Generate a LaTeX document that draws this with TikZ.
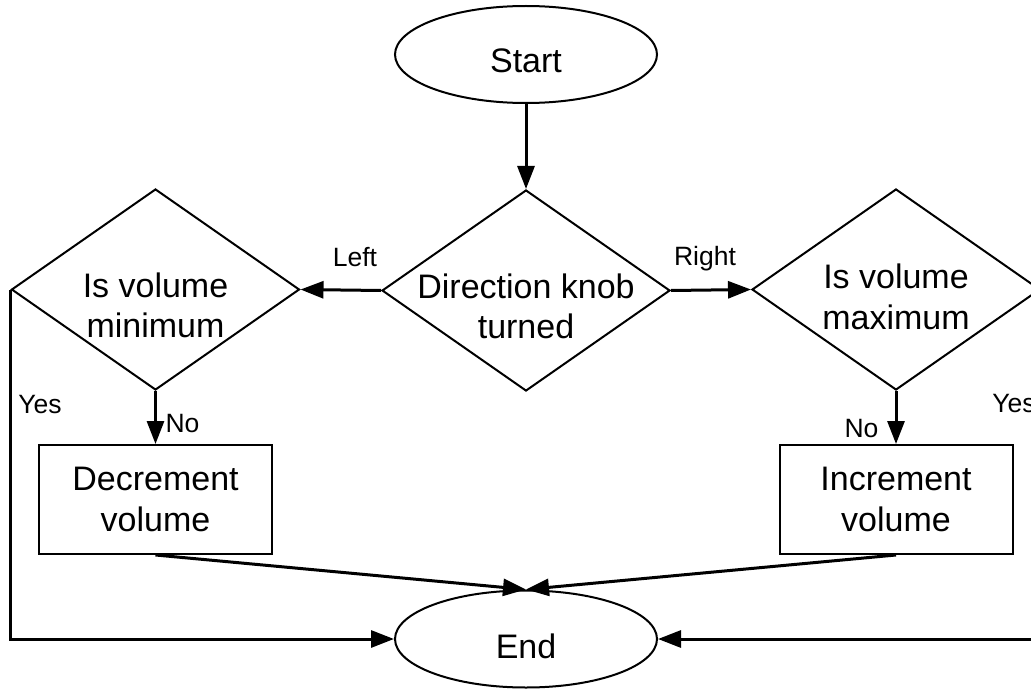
\documentclass[tikz,border=0pt]{standalone}
\usepackage{fontspec}
\setmainfont{Liberation Sans}
\usetikzlibrary{shapes.geometric,arrows.meta}

% text sizes for the flowchart
\newcommand{\flowmain}{\fontsize{34}{40.5}\selectfont}
\newcommand{\flowlabel}{\fontsize{26.5}{32}\selectfont}

\begin{document}
\begin{tikzpicture}[x=1pt,y=-1pt,
  shapeline/.style={draw=black, line width=2pt},
  terminal/.style={shapeline, ellipse, minimum width=262pt, minimum height=97pt, inner sep=0pt},
  decision/.style={shapeline, diamond, minimum width=288pt, minimum height=201pt, inner sep=0pt},
  process/.style={shapeline, rectangle, minimum width=233pt, minimum height=109pt,
    inner sep=0pt, align=center, font=\flowmain},
  inside/.style={font=\flowmain, align=center, inner sep=0pt},
  flow/.style={line width=3pt, -{Triangle[length=23pt,width=17pt]}},
  edgelabel/.style={font=\flowlabel, anchor=base, inner sep=0pt}
]
% page frame
\clip (0,0) rectangle (1031,690);
\fill[white] (0,0) rectangle (1031,690);

% terminals
\node[terminal, label={[inside, yshift=-6.5pt]center:Start}] (start) at (526,54.5) {};
\node[terminal, label={[inside, yshift=-7pt]center:End}] (end) at (526,639) {};

% decisions
\node[decision, label={[inside, yshift=-16pt]center:Direction knob\\turned}] (knob) at (526,290.5) {};
\node[decision, label={[inside, yshift=-16pt]center:Is volume\\minimum}] (minq) at (155.5,289.5) {};
\node[decision, label={[inside, yshift=-7.5pt]center:Is volume\\maximum}] (maxq) at (896,289.5) {};

% actions
\node[process] (dec) at (155.5,499.5) {Decrement\\volume};
\node[process] (inc) at (896,499.5) {Increment\\volume};

% connectors
\draw[flow] (start) -- (knob);
\draw[flow] (knob.west) -- (minq.east);
\draw[flow] (knob.east) -- (maxq.west);
\draw[flow] (minq.south) -- (dec.north);
\draw[flow] (maxq.south) -- (inc.north);
\draw[flow] (dec.south) -- (end.north);
\draw[flow] (inc.south) -- (end.north);
\draw[flow] (minq.west) |- (end.west);
\draw[flow] (maxq.east) |- (end.east);

% branch labels
\node[edgelabel] (lleft) at (355,266) {Left};
\node[edgelabel] (lright) at (705,265) {Right};
\node[edgelabel] (lyesmin) at (40,413) {Yes};
\node[edgelabel] (lnomin) at (182.5,432) {No};
\node[edgelabel] (lnomax) at (861.5,437) {No};
\node[edgelabel] (lyesmax) at (1014,412) {Yes};
\end{tikzpicture}
\end{document}
